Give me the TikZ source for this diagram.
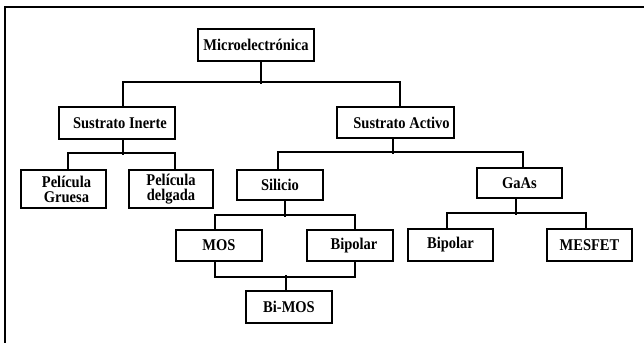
\documentclass[tikz,border=0pt]{standalone}
\usepackage{fontspec}
\setmainfont{Liberation Serif}
% slightly tall lettering
\newcommand{\tx}[1]{\scalebox{1}[1.13]{#1}}
\begin{document}
\begin{tikzpicture}[x=1pt,y=-1pt,
  line width=1.6pt,
  box/.style={draw,line width=1.6pt,inner sep=0pt,align=center,
    font=\fontsize{14.5}{15}\selectfont\bfseries,minimum width=#1},
  box/.default=86pt,
  wire/.style={line width=1.6pt}]
\useasboundingbox (0,0) rectangle (644,343);
% open frame: top and left edges only
\coordinate (ftr) at (644,7);
\coordinate (ftl) at (5,7);
\coordinate (fbl) at (5,343);
\draw[line width=1.4pt] (ftr) -- (ftl) -- (fbl);

% boxes
\node[box=116pt,minimum height=32pt] (micro)   at (256,45)    {\tx{Microelectrónica}};
\node[box=116pt,minimum height=32pt] (inerte)  at (117,123)   {\hspace*{6pt}\tx{Sustrato Inerte}};
\node[box=117pt,minimum height=31pt] (activo)  at (395.5,122.5) {\hspace*{12pt}\tx{Sustrato Activo}};
\node[box=85pt,minimum height=38pt]  (gruesa)  at (63.5,189)  {\hspace*{6pt}\tx{Película}\\\hspace*{6pt}\tx{Gruesa}};
\node[box=84pt,minimum height=38pt]  (delgada) at (171,189)   {\tx{Película}\\\tx{delgada}};
\node[box,minimum height=30pt]       (silicio) at (280,185)   {\tx{Silicio}};
\node[box=85pt,minimum height=30pt]  (gaas)    at (519.5,183) {\tx{GaAs}};
\node[box,minimum height=31pt]       (mos)     at (219,245.5) {\tx{MOS}};
\node[box,minimum height=31pt]       (bipsi)   at (350,245.5) {\hspace*{8pt}\tx{Bipolar}};
\node[box,minimum height=32pt]       (bimos)   at (289,307)   {\tx{Bi-MOS}};
\node[box=85pt,minimum height=32pt]  (bipga)   at (450.5,245) {\tx{Bipolar}};
\node[box=85pt,minimum height=32pt]  (mesfet)  at (589.5,245) {\tx{MESFET}};

% connectors
\draw[wire] ([xshift=5pt]micro.south) -- ++(0,22);
\draw[wire] ([xshift=6pt]inerte.north) -- ++(0,-24) -| ([xshift=4.5pt]activo.north);

\draw[wire] ([xshift=6pt]inerte.south) -- ++(0,15);
\draw[wire] ([xshift=4.5pt]gruesa.north) -- ++(0,-16) -| ([xshift=4pt]delgada.north);

\draw[wire] ([xshift=-2.5pt]activo.south) -- ++(0,15);
\draw[wire] ([xshift=-2pt]silicio.north) -- ++(0,-17) -| ([xshift=3.5pt]gaas.north);

\draw[wire] ([xshift=5pt]silicio.south) -- ++(0,16);
\draw[wire] ([xshift=-4pt]mos.north) -- ++(0,-14) -| ([xshift=5pt]bipsi.north);

\draw[wire] ([xshift=-3.5pt]gaas.south) -- ++(0,16);
\draw[wire] ([xshift=-3.5pt]bipga.north) -- ++(0,-15) -| ([xshift=-3.5pt]mesfet.north);

\draw[wire] ([xshift=-4pt]mos.south) -- ++(0,15) -| ([xshift=5pt]bipsi.south);
\draw[wire] ([xshift=-3pt]bimos.north) -- ++(0,-15);
\end{tikzpicture}
\end{document}
